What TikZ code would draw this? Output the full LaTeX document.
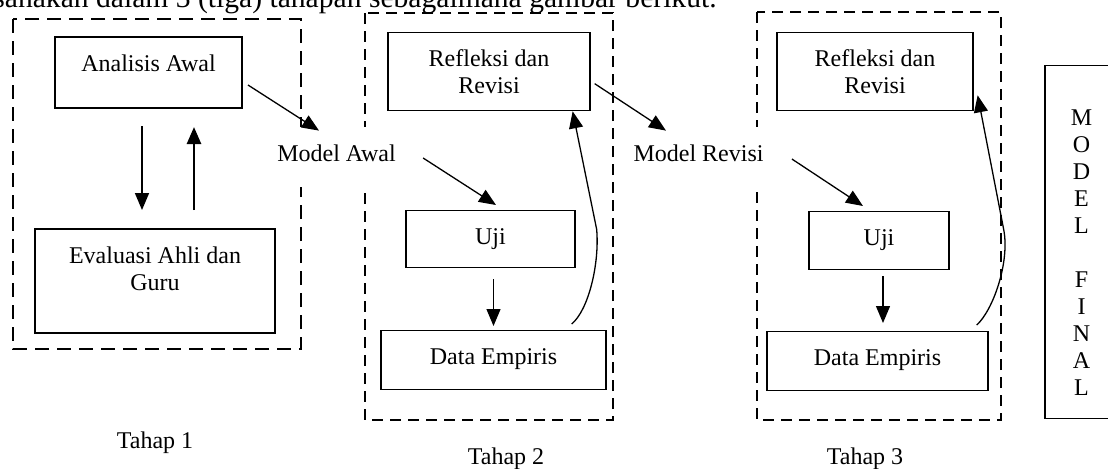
\documentclass[tikz,border=0pt]{standalone}
\usepackage{fontspec}
\setmainfont{Liberation Serif}
\usetikzlibrary{arrows.meta}

\begin{document}
\begin{tikzpicture}[x=0.5pt, y=-0.5pt]
 \tikzset{
  kotak/.style={draw, line width=.65pt, anchor=north, inner sep=0pt, align=center, text height=17pt, font=\fontsize{12}{13.5}\selectfont},
  dualbaris/.style={text height=30.5pt},
  bingkai/.style={draw, dash pattern=on 5.5pt off 3.5pt, line width=.7pt},
  teks/.style={anchor=base, inner sep=0pt, font=\fontsize{12}{13.5}\selectfont},
  model/.style={teks, fill=white, inner xsep=3pt, text height=17pt, text depth=13pt},
  panah/.style={-{Triangle[length=8.5pt, width=7pt]}, line width=.65pt}
 }
 \useasboundingbox (0,0) rectangle (1108,468);
 \clip (0,0) rectangle (1108,468);

 \node [anchor=base east, inner sep=0pt, font=\fontsize{14.8}{16}\selectfont] (kalimat) at (717,7) {sanakan dalam 3 (tiga) tahapan sebagaimana gambar berikut.};

 % bingkai tiap tahap
 \draw [bingkai, line width=1pt, dash pattern=on 7pt off 4pt] (13,19) rectangle (301,349);
 \draw [bingkai] (365,13) rectangle (613,420);
 \draw [bingkai] (757,12) rectangle (1001,420);

 % tahap 1
 \node [kotak, line width=1pt, minimum width=93.5pt, text depth=18.5pt] (aa) at (148.5,36) {Analisis Awal};
 \node [kotak, dualbaris, line width=1pt, minimum width=120pt, text depth=21.5pt] (ev) at (155,228) {Evaluasi Ahli dan\\Guru};

 % tahap 2
 \node [kotak, dualbaris, minimum width=101pt, text depth=8.5pt] (r2) at (489,32) {Refleksi dan\\Revisi};
 \node [kotak, minimum width=84.5pt, text depth=11.5pt] (u2) at (490.5,210) {Uji};
 \node [kotak, minimum width=112.5pt, text depth=12.5pt] (d2) at (493.5,330) {Data Empiris};

 % tahap 3
 \node [kotak, dualbaris, minimum width=98pt, text depth=8.5pt] (r3) at (875,32) {Refleksi dan\\Revisi};
 \node [kotak, minimum width=70pt, text depth=12pt] (u3) at (879,211) {Uji};
 \node [kotak, minimum width=110.5pt, text depth=12.5pt] (d3) at (877.5,331) {Data Empiris};

 \node [kotak, minimum width=36.5pt, text height=165pt, text depth=11.5pt] (mf) at (1081.5,65) {M\\O\\D\\E\\L\\[13.5pt]F\\I\\N\\A\\L};

 \node [model] (ma) at (336.5,161) {Model Awal};
 \node [model] (mr) at (698.5,161) {Model Revisi};
 \foreach \x/\y [count=\i] in {155/448, 506/464, 865/464} { \node [teks] (t\i) at (\x,\y) {Tahap \i}; }

 \draw [panah, line width=.85pt, shorten <=8.5pt, shorten >=9pt] ([xshift=-3.25pt]aa.south) -- ([xshift=-6.5pt]ev.north);
 \draw [panah, line width=1.3pt, shorten <=9pt, shorten >=9pt] ([xshift=19.5pt]ev.north) -- ([xshift=22.75pt]aa.south);

 \draw [panah] ([shift={(5,12.5)}]aa.east) -- ([shift={(-17.5,4)}]ma.north);
 \draw [panah] ([shift={(21,1)}]ma.east) -- ([shift={(5.5,-5)}]u2.north);
 \draw [panah] ([shift={(4,12)}]r2.east) -- ([shift={(-32.5,4)}]mr.north);
 \draw [panah] ([shift={(22,2)}]mr.east) -- ([shift={(-16,-5)}]u3.north);

 \draw [panah, shorten <=5.5pt, shorten >=2pt] (u2.south -| d2.north) -- (d2.north);
 \draw [panah, shorten <=3pt, shorten >=4pt] ([xshift=2pt]u3.south) -- ([xshift=2.75pt]d3.north);

 \draw [panah] ([shift={(-35,-6)}]d2.north east) .. controls +(17,-14) and +(3,34) .. ([shift={(6,118)}]r2.south east) -- ([shift={(-18,0)}]r2.south east);
 \draw [panah] ([shift={(-12,-6)}]d3.north east) .. controls +(16,-14) and +(6.5,33) .. ([shift={(30,118)}]r3.south east) -- ([shift={(4,-16)}]r3.south east);
\end{tikzpicture}
\end{document}
